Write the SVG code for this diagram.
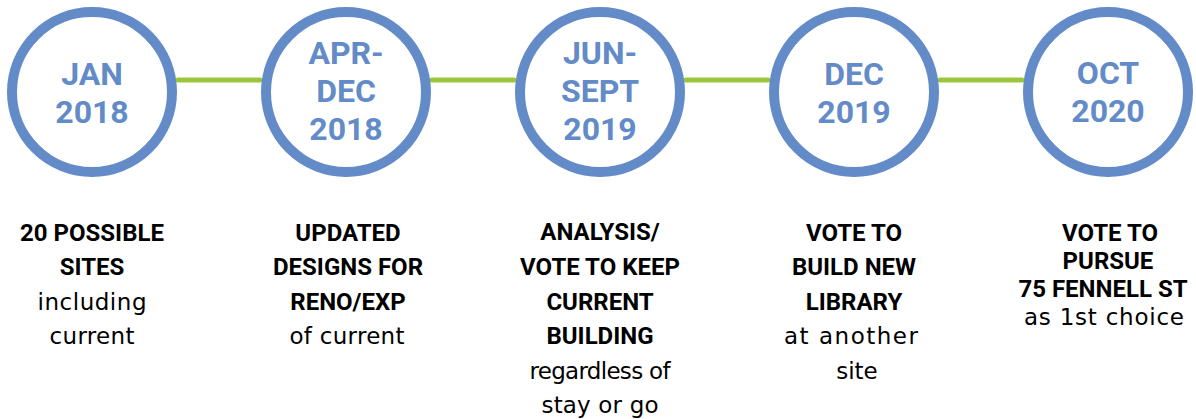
<svg xmlns="http://www.w3.org/2000/svg" width="1196" height="419" viewBox="0 0 1196 419">
<style>
.ring{fill:#ffffff;stroke:#628bc8;stroke-width:10}
.link{stroke:#9bc53a;stroke-width:5;stroke-linecap:round;fill:none}
.date{font-family:Roboto,"Liberation Sans",sans-serif;font-weight:bold;font-size:32px;fill:#628bc8;text-anchor:middle}
.b{font-family:Roboto,"Liberation Sans",sans-serif;font-weight:bold;font-size:24px;fill:#000000;text-anchor:middle}
.r{font-family:"DejaVu Sans","Liberation Sans",sans-serif;font-size:23px;fill:#000000;text-anchor:middle}
</style>
<rect width="1196" height="419" fill="#ffffff"/>
<g id="connectors">
<line class="link" x1="178" y1="80" x2="260" y2="80"/>
<line class="link" x1="432" y1="80" x2="514" y2="80"/>
<line class="link" x1="686" y1="80" x2="768" y2="80"/>
<line class="link" x1="940" y1="80" x2="1022" y2="80"/>
</g>
<g id="node1">
<circle class="ring" cx="92" cy="92" r="80"/>
<text class="date" x="92" y="85">JAN</text>
<text class="date" x="92" y="123">2018</text>
<text class="b" x="92" y="240.5">20 POSSIBLE</text>
<text class="b" x="92" y="275">SITES</text>
<text class="r" x="92" y="309.5" textLength="109" lengthAdjust="spacing">including</text>
<text class="r" x="92" y="344" textLength="85" lengthAdjust="spacing">current</text>
</g>
<g id="node2">
<circle class="ring" cx="346" cy="92" r="80"/>
<text class="date" x="346" y="63.5">APR-</text>
<text class="date" x="346" y="101.7">DEC</text>
<text class="date" x="346" y="140">2018</text>
<text class="b" x="348" y="240.5">UPDATED</text>
<text class="b" x="348" y="275">DESIGNS FOR</text>
<text class="b" x="348" y="309.5">RENO/EXP</text>
<text class="r" x="347" y="344" textLength="115" lengthAdjust="spacing">of current</text>
</g>
<g id="node3">
<circle class="ring" cx="600" cy="92" r="80"/>
<text class="date" x="600" y="63.5">JUN-</text>
<text class="date" x="600" y="101.7">SEPT</text>
<text class="date" x="600" y="140">2019</text>
<text class="b" x="600" y="240">ANALYSIS/</text>
<text class="b" x="600" y="275">VOTE TO KEEP</text>
<text class="b" x="600" y="309.5">CURRENT</text>
<text class="b" x="600" y="344">BUILDING</text>
<text class="r" x="600" y="378.5" textLength="141" lengthAdjust="spacing">regardless of</text>
<text class="r" x="600" y="413" textLength="117" lengthAdjust="spacing">stay or go</text>
</g>
<g id="node4">
<circle class="ring" cx="854" cy="92" r="80"/>
<text class="date" x="854" y="84.5">DEC</text>
<text class="date" x="854" y="122.5">2019</text>
<text class="b" x="854" y="240.5">VOTE TO</text>
<text class="b" x="854" y="275">BUILD NEW</text>
<text class="b" x="854" y="309.5">LIBRARY</text>
<text class="r" x="851" y="344" textLength="134" lengthAdjust="spacing">at another</text>
<text class="r" x="857" y="378.5">site</text>
</g>
<g id="node5">
<circle class="ring" cx="1108" cy="92" r="80"/>
<text class="date" x="1108" y="83.5">OCT</text>
<text class="date" x="1108" y="121.7">2020</text>
<text class="b" x="1110" y="240.5">VOTE TO</text>
<text class="b" x="1108" y="269">PURSUE</text>
<text class="b" x="1103" y="297">75 FENNELL ST</text>
<text class="r" x="1104" y="325" textLength="160" lengthAdjust="spacing">as 1st choice</text>
</g>
</svg>
